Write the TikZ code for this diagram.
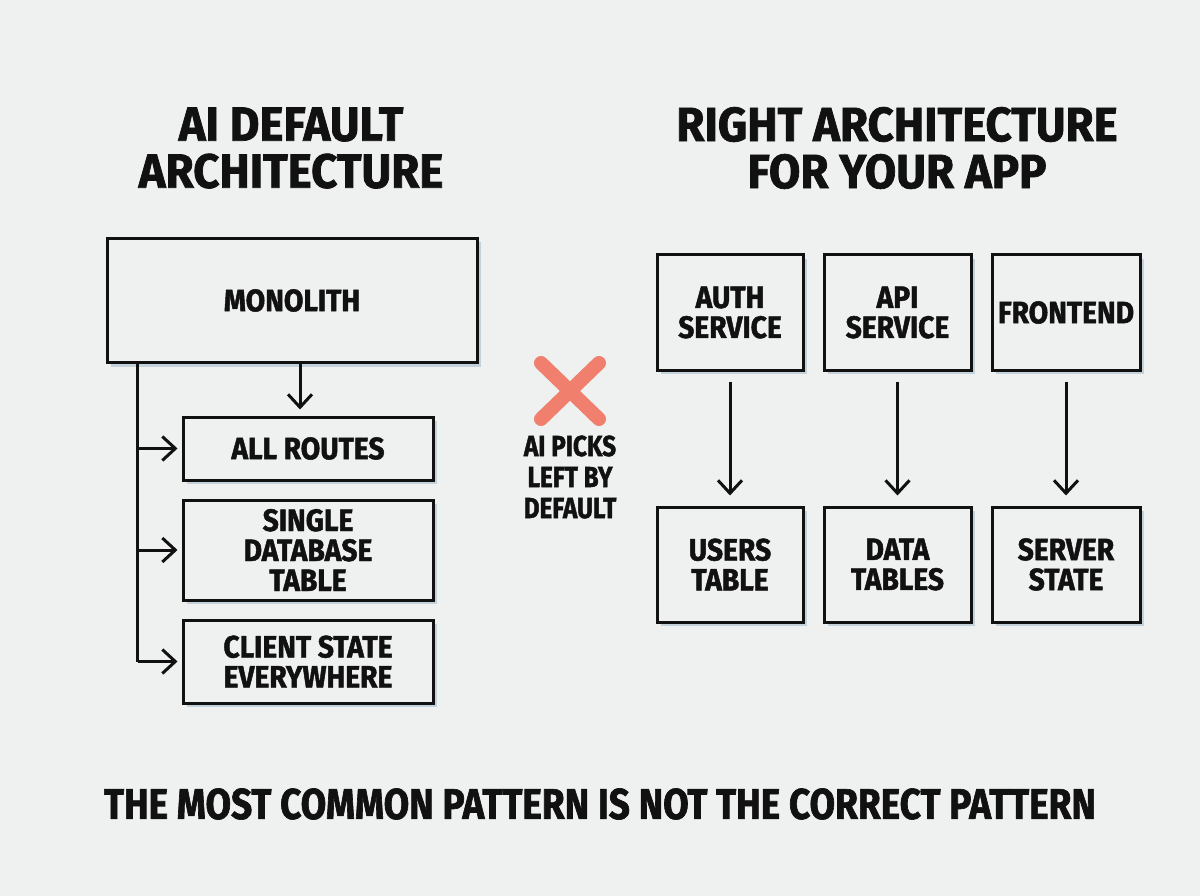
\documentclass[tikz,border=0pt]{standalone}
\usepackage{fontspec}
\newfontfamily\tfont{Fira Sans}[FakeStretch=0.95, FakeBold=1.5]
\newfontfamily\dfont{Fira Sans}[FakeStretch=0.91, FakeBold=1.5]
\newfontfamily\nfont{Fira Sans}[FakeStretch=0.84, FakeBold=1.5]
\newfontfamily\bfont{Fira Sans}[FakeStretch=0.86, FakeBold=1.5]
\usetikzlibrary{arrows.meta,shadows,calc}
\definecolor{bg}{HTML}{EFF0F0}
\definecolor{shad}{HTML}{C3D2DA}
\definecolor{xred}{HTML}{F07F6E}
\definecolor{ink}{HTML}{111111}
\begin{document}
\begin{tikzpicture}[x=1pt,y=-1pt,
  box/.style={draw=ink, line width=3pt, fill=bg, rectangle, inner sep=0pt,
    align=center, text=ink, font=\dfont\bfseries\fontsize{31}{30}\selectfont,
    drop shadow={shadow xshift=4pt, shadow yshift=-4pt, fill=shad, opacity=1}},
  title/.style={align=center, text=ink, inner sep=0pt, font=\tfont\bfseries\fontsize{48}{47}\selectfont},
  note/.style={align=center, text=ink, inner sep=0pt, font=\nfont\bfseries\fontsize{29}{31}\selectfont},
  arr/.style={draw=ink, line width=3pt, -{Straight Barb[length=13pt,width=24pt]}},
  trunk/.style={draw=ink, line width=3pt}
]
\useasboundingbox[fill=bg] (0,0) rectangle (1200,896);

% titles
\node[title] (tl) at (291,148) {AI DEFAULT\\ARCHITECTURE};
\node[title] (tr) at (897,148) {RIGHT ARCHITECTURE\\FOR YOUR APP};

% left side
\node[box, minimum width=370pt, minimum height=124pt] (mono) at (292,300.5) {MONOLITH};
\node[box, minimum width=250pt, minimum height=63pt] (routes) at (308,448.5) {ALL ROUTES};
\node[box, minimum width=250pt, minimum height=100pt] (single) at (308,550) {SINGLE\\DATABASE\\TABLE};
\node[box, minimum width=250pt, minimum height=83pt] (client) at (308,661.5) {CLIENT STATE\\EVERYWHERE};

\coordinate (tx) at (137.5,0);
\draw[arr, shorten >=6pt] ([xshift=-8pt]routes.north |- mono.south) -- ([xshift=-8pt]routes.north);
\draw[trunk] (tx |- mono.south) -- (tx |- client.west);
\draw[arr, shorten >=4pt] (tx |- routes.west) -- (routes.west);
\draw[arr, shorten >=4pt] (tx |- single.west) -- (single.west);
\draw[arr, shorten >=4pt] (tx |- client.west) -- (client.west);

% middle
\coordinate (xc) at (570,391);
\draw[xred, line width=14pt, line cap=round] ($(xc)+(-29,-28)$) -- ($(xc)+(29,28)$);
\draw[xred, line width=14pt, line cap=round] ($(xc)+(29,-28)$) -- ($(xc)+(-29,28)$);
\node[note] (pick) at (570,477) {AI PICKS\\LEFT BY\\DEFAULT};

% right side
\node[box, minimum width=146pt, minimum height=115pt] (auth) at (730,312.5) {AUTH\\SERVICE};
\node[box, minimum width=147pt, minimum height=115pt] (api) at (897.5,312.5) {API\\SERVICE};
\node[box, minimum width=148pt, minimum height=115pt] (front) at (1066,312.5) {FRONTEND};
\node[box, minimum width=146pt, minimum height=115pt] (users) at (730,564.5) {USERS\\TABLE};
\node[box, minimum width=147pt, minimum height=115pt] (data) at (897.5,564.5) {DATA\\TABLES};
\node[box, minimum width=148pt, minimum height=115pt] (server) at (1066,564.5) {SERVER\\STATE};

\draw[arr, shorten <=10pt, shorten >=10pt] (auth) -- (users);
\draw[arr, shorten <=10pt, shorten >=10pt] (api) -- (data);
\draw[arr, shorten <=10pt, shorten >=10pt] (front) -- (server);

% bottom
\node[title, font=\bfont\bfseries\fontsize{43}{43}\selectfont] (bottom) at (600,804) {THE MOST COMMON PATTERN IS NOT THE CORRECT PATTERN};
\end{tikzpicture}
\end{document}
